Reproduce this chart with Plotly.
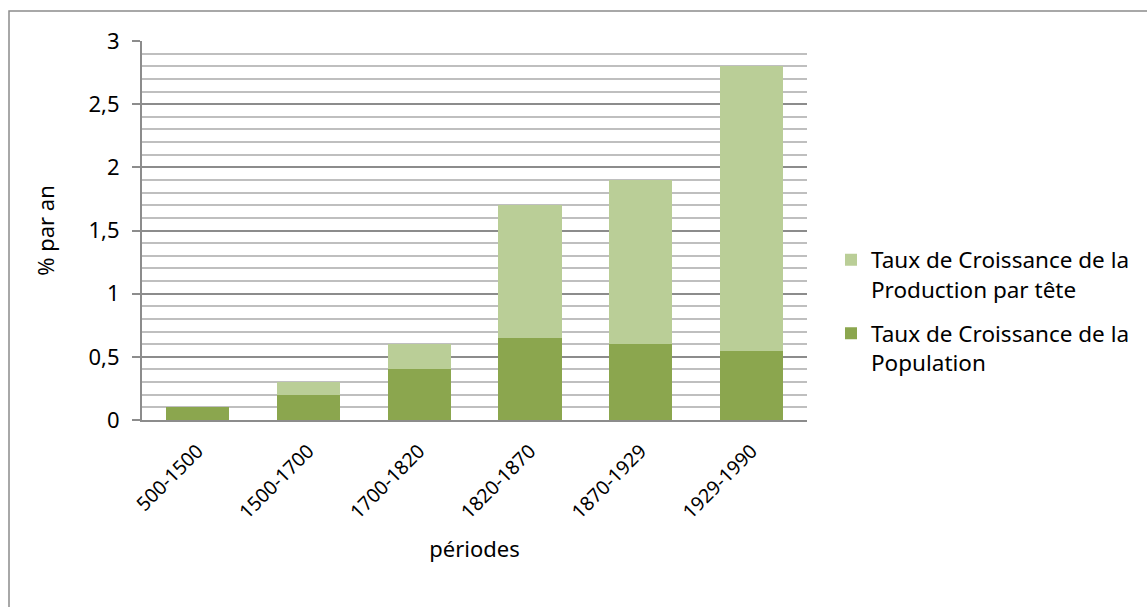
import plotly.graph_objects as go

# Périodes et taux de croissance annuels (% par an)
periodes = ["500-1500", "1500-1700", "1700-1820", "1820-1870", "1870-1929", "1929-1990"]
croissance_population = [0.1, 0.2, 0.4, 0.65, 0.6, 0.55]
croissance_production_tete = [0.0, 0.1, 0.2, 1.05, 1.3, 2.25]

nom_production = "Taux de Croissance de la<br>Production par tête"
nom_population = "Taux de Croissance de la<br>Population"

couleur_population = "#8BA64E"
couleur_production = "#BACE97"

W, H = 1147, 607
L, R, T, B = 142, 340, 41, 187
plot_w = W - L - R
plot_h = H - T - B

police = "Noto Sans, Open Sans, sans-serif"

fig = go.Figure()
fig.add_trace(go.Bar(
    x=periodes, y=croissance_population, name=nom_population,
    marker=dict(color=couleur_population, line=dict(width=0)),
    legendgroup="population", legendrank=2,
))
fig.add_trace(go.Bar(
    x=periodes, y=croissance_production_tete, name=nom_production,
    marker=dict(color=couleur_production, line=dict(width=0)),
    legendgroup="production", legendrank=1,
))

# Cadre gris du graphique (bords gauche et haut visibles)
x0 = (9 - L) / plot_w
y1 = (H - B - 11) / plot_h
fig.add_shape(type="rect", xref="paper", yref="paper",
              x0=x0, x1=(W + 20 - L) / plot_w,
              y0=-(B + 20) / plot_h, y1=y1,
              line=dict(color="#8C8C8C", width=1.5), fillcolor="rgba(0,0,0,0)",
              layer="below")

fig.update_layout(
    width=W, height=H,
    margin=dict(l=L, r=R, t=T, b=B, autoexpand=False),
    barmode="stack",
    bargap=0.43,
    paper_bgcolor="white",
    plot_bgcolor="white",
    separators=", ",
    font=dict(family=police, size=20, color="#000000"),
    xaxis=dict(
        automargin=False,
        tickangle=-45,
        tickfont=dict(size=19.5),
        ticklabelstandoff=10,
        showline=True, linecolor="#8C8C8C", linewidth=2,
        showgrid=False, ticks="",
        title=dict(text="périodes", font=dict(size=22), standoff=18),
    ),
    yaxis=dict(
        automargin=False,
        range=[0, 3],
        dtick=0.5,
        tickformat=".1~f",
        tickfont=dict(size=22),
        ticklabelstandoff=8,
        showline=True, linecolor="#8C8C8C", linewidth=2,
        ticks="outside", ticklen=8, tickcolor="#8C8C8C", tickwidth=2,
        showgrid=True, gridcolor="#8C8C8C", gridwidth=2,
        zeroline=False,
        minor=dict(dtick=0.1, showgrid=True, gridcolor="#BFBFBF", gridwidth=1.5),
        title=dict(text="% par an", font=dict(size=22), standoff=28),
    ),
    legend=dict(
        xref="container", yref="container",
        x=831 / W, xanchor="left",
        y=1 - 311 / H, yanchor="middle",
        font=dict(size=22.5),
        tracegroupgap=12,
        itemwidth=30,
        valign="top",
        bgcolor="rgba(0,0,0,0)",
        traceorder="grouped",
    ),
    showlegend=True,
)

fig.write_html("out.html")
